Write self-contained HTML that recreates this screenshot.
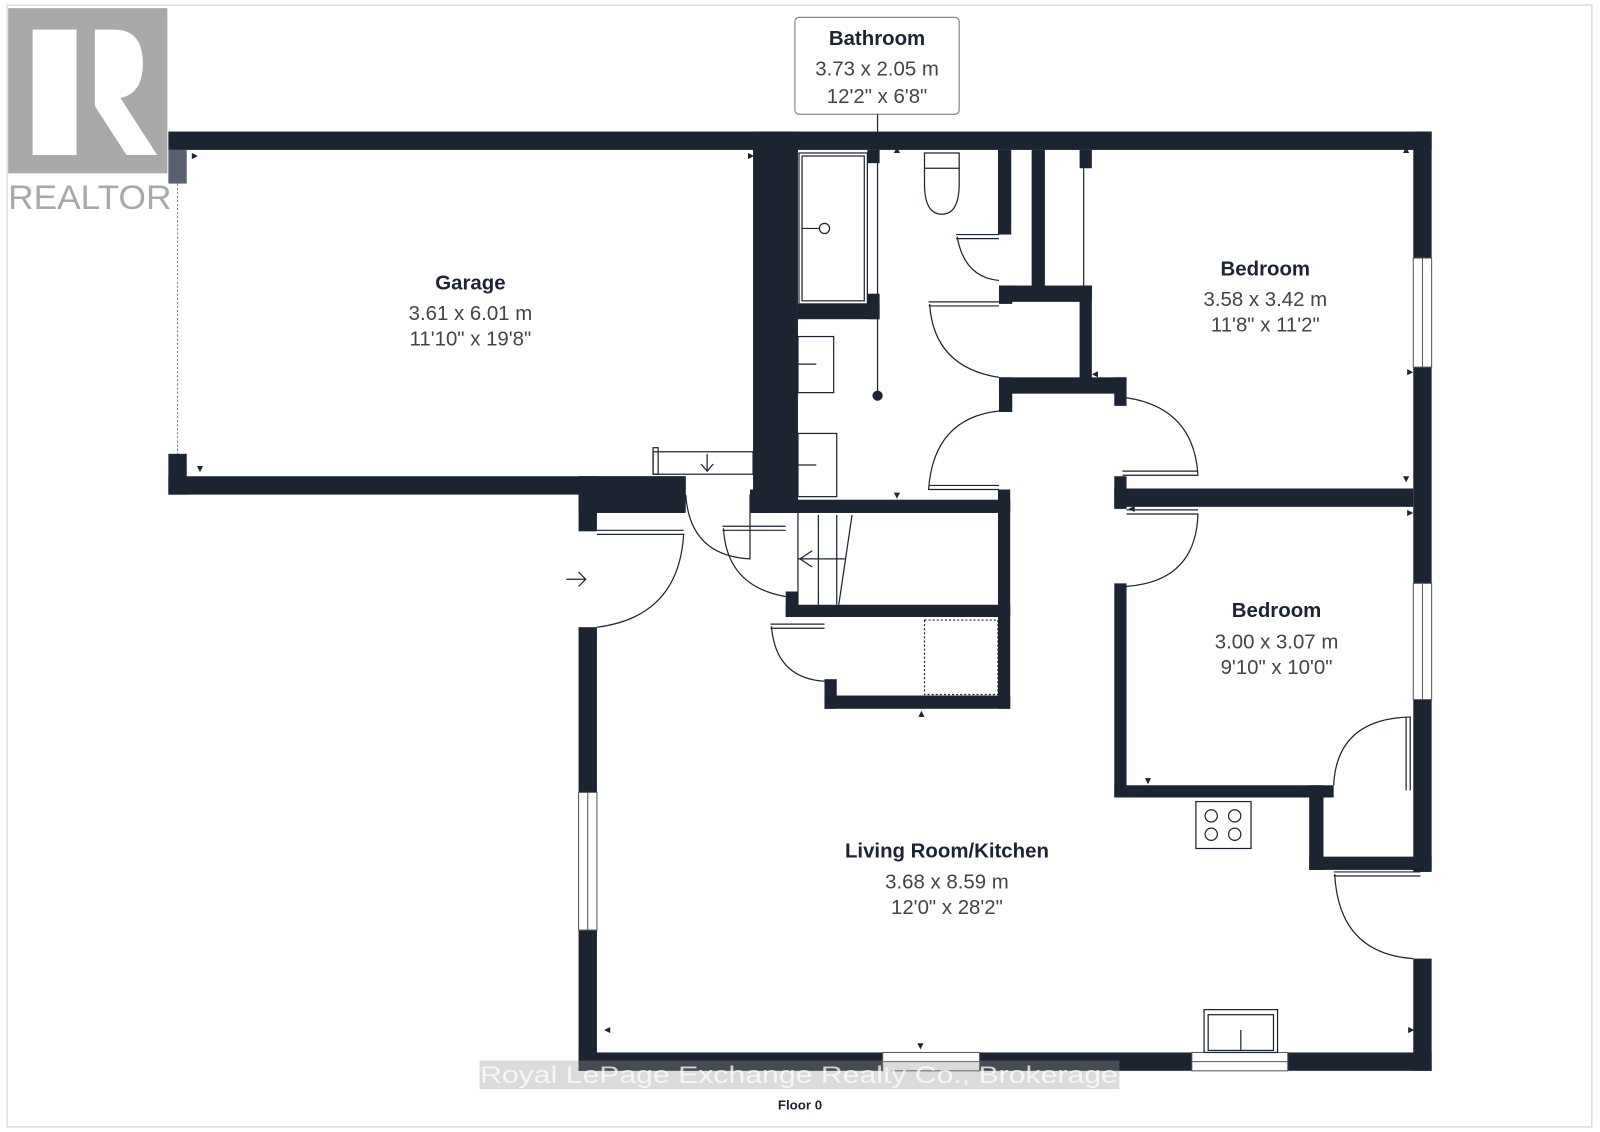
<!DOCTYPE html>
<html><head><meta charset="utf-8"><style>
html,body{margin:0;padding:0;background:#fff;}
svg{display:block;}
text{font-family:"Liberation Sans",sans-serif;}
</style></head><body>
<svg width="1600" height="1132" viewBox="0 0 1568 1110" preserveAspectRatio="none" xmlns="http://www.w3.org/2000/svg">
<rect x="0" y="0" width="1568" height="1110" fill="#fff"/>
<rect x="7" y="5" width="1553" height="1100" fill="none" stroke="#ddd" stroke-width="1.5"/>
<!-- realtor logo -->
<rect x="8" y="8" width="156" height="162" fill="#a9a9a9"/>
<rect x="32" y="29" width="43" height="123" fill="#fff"/>
<path d="M93 29 H112 Q140 29 140 62 Q140 92 118 96 L154 152 H124 L93 104 Z" fill="#fff"/>
<text x="8" y="205" font-size="34" fill="#a9a9a9" textLength="160" lengthAdjust="spacingAndGlyphs">REALTOR</text>
<!-- bathroom label -->
<rect x="779" y="17" width="161" height="95" rx="4" fill="#fff" stroke="#888" stroke-width="1.2"/>
<text x="859.5" y="44" font-size="20" font-weight="bold" fill="#1c2331" text-anchor="middle">Bathroom</text>
<text x="859.5" y="74" font-size="20" fill="#444" text-anchor="middle">3.73 x 2.05 m</text>
<text x="859.5" y="101" font-size="20" fill="#444" text-anchor="middle">12'2" x 6'8"</text>
<line x1="860" y1="112" x2="860" y2="388" stroke="#1c2331" stroke-width="1.2"/>
<circle cx="860" cy="388" r="5" fill="#1c2331"/>
<g fill="#1c2331">
<rect x="165" y="129" width="1238" height="18"/>
<rect x="165" y="147" width="18" height="33" fill="#5a6070"/>
<rect x="165" y="445" width="18" height="40"/>
<rect x="165" y="467" width="507" height="18"/>
<rect x="567" y="467" width="105" height="36"/>
<rect x="567" y="467" width="18" height="54"/>
<rect x="738" y="129" width="44" height="374"/>
<rect x="735" y="480" width="47" height="23"/>
<rect x="1385" y="129" width="18" height="726"/>
<rect x="1385" y="940" width="18" height="110"/>
<rect x="567" y="1032" width="836" height="18"/>
<rect x="567" y="615" width="18" height="435"/>
<rect x="850" y="147" width="12" height="13"/>
<rect x="850" y="288" width="12" height="25"/>
<rect x="782" y="298" width="80" height="15"/>
<rect x="978" y="147" width="13" height="83"/>
<rect x="1011" y="147" width="13" height="136"/>
<rect x="979" y="280" width="91" height="16"/>
<rect x="979" y="280" width="13" height="18"/>
<rect x="1058" y="147" width="12" height="18"/>
<rect x="1058" y="280" width="12" height="95"/>
<rect x="979" y="370" width="125" height="16"/>
<rect x="979" y="370" width="13" height="34"/>
<rect x="1092" y="370" width="12" height="28"/>
<rect x="1092" y="479" width="293" height="18"/>
<rect x="1092" y="467" width="12" height="32"/>
<rect x="1092" y="572" width="12" height="210"/>
<rect x="1092" y="770" width="215" height="12"/>
<rect x="1283" y="770" width="14" height="83"/>
<rect x="1283" y="840" width="120" height="13"/>
<rect x="782" y="490" width="208" height="13"/>
<rect x="978" y="480" width="12" height="215"/>
<rect x="770" y="593" width="220" height="12"/>
<rect x="770" y="580" width="12" height="25"/>
<rect x="808" y="682" width="182" height="13"/>
<rect x="808" y="666" width="12" height="29"/>
</g>
<g fill="#fff" stroke="#555" stroke-width="1">
<rect x="1385" y="253" width="18" height="107"/>
<rect x="1385" y="572" width="18" height="114"/>
<rect x="567" y="777" width="18" height="135"/>
<rect x="865" y="1032" width="95" height="18"/>
<rect x="1168" y="1032" width="94" height="18"/>
</g>
<g stroke="#555" stroke-width="1">
<line x1="1394" y1="253" x2="1394" y2="360"/><line x1="1394" y1="572" x2="1394" y2="686"/>
<line x1="576" y1="777" x2="576" y2="912"/><line x1="865" y1="1041" x2="960" y2="1041"/><line x1="1168" y1="1041" x2="1262" y2="1041"/>
</g>
<line x1="174" y1="180" x2="174" y2="445" stroke="#777" stroke-dasharray="2,2"/>
<g fill="none" stroke="#1c2331" stroke-width="1.2">
<rect x="783" y="150" width="67" height="148"/><rect x="786" y="153" width="61" height="142"/>
<circle cx="808" cy="224" r="5"/><line x1="786" y1="224" x2="803" y2="224"/>
<path d="M906 150 H940 V180 Q940 210 923 210 Q906 210 906 180 Z"/><line x1="906" y1="165" x2="940" y2="165"/>
<rect x="782" y="330" width="35" height="55"/><line x1="782" y1="357" x2="800" y2="357"/>
<rect x="782" y="425" width="38" height="62"/><line x1="782" y1="456" x2="800" y2="456"/>
<line x1="1062" y1="165" x2="1062" y2="280"/>
<rect x="1172" y="786" width="54" height="46"/>
<circle cx="1187" cy="800" r="6"/><circle cx="1210" cy="800" r="6"/><circle cx="1187" cy="818" r="6"/><circle cx="1210" cy="818" r="6"/>
<rect x="1180" y="990" width="72" height="42"/><rect x="1184" y="995" width="64" height="35"/><line x1="1216" y1="1010" x2="1216" y2="1030"/>
<rect x="906" y="608" width="72" height="73" stroke-dasharray="2,2"/>
<rect x="640" y="443" width="98" height="22"/><rect x="640" y="439" width="5" height="26"/>
<path d="M687 455 L693 462 L699 455 M693 445 V462"/>
<line x1="782" y1="503" x2="782" y2="593"/><line x1="802" y1="505" x2="802" y2="593"/><line x1="820" y1="505" x2="820" y2="593"/><line x1="835" y1="505" x2="822" y2="593"/>
<line x1="782" y1="548" x2="828" y2="548"/><path d="M796 540 L784 548 L796 556"/>
<path d="M555 568 H574 M567 561 L574 568 L567 575"/>
<path d="M937 230 H979 M937 234 H979 M938 232 Q945 272 979 275"/>
<path d="M910 296 H979 M910 300 H979 M911 298 Q915 360 979 370"/>
<path d="M979 403 Q915 410 910 480 H979 M910 476 H979"/>
<path d="M1104 390 Q1170 400 1174 466 H1100 M1100 462 H1174"/>
<path d="M1104 500 H1174 M1104 504 H1174 Q1172 570 1104 575"/>
<path d="M585 520 H670 M585 524 H670 Q665 605 585 615"/>
<path d="M672 485 Q676 545 735 548 V485"/>
<path d="M708 516 H770 M708 520 H770 M709 518 Q712 575 770 585"/>
<path d="M755 612 H808 M755 616 H808 M756 614 Q760 665 808 668"/>
<path d="M1307 770 Q1310 705 1382 703 V775 M1378 703 V775"/>
<path d="M1307 855 H1392 M1307 859 H1392 M1308 857 Q1312 935 1385 940"/>
</g>
<g fill="#1c2331">
<path d="M188 150 l6 3 l-6 3 z"/><path d="M733 150 l6 3 l-6 3 z"/><path d="M193 457 l3 6 l3 -6 z"/>
<path d="M876 150 l3 -6 l3 6 z"/><path d="M876 483 l3 6 l3 -6 z"/><path d="M1375 150 l3 -6 l3 6 z"/><path d="M1375 467 l3 6 l3 -6 z"/>
<path d="M1076 364 l-6 3 l6 3 z"/><path d="M1379 362 l6 3 l-6 3 z"/><path d="M1112 496 l-6 3 l6 3 z"/><path d="M1379 500 l6 3 l-6 3 z"/>
<path d="M1122 763 l3 6 l3 -6 z"/><path d="M900 703 l3 -6 l3 6 z"/><path d="M598 1007 l-6 3 l6 3 z"/><path d="M1380 1007 l6 3 l-6 3 z"/><path d="M899 1023 l3 6 l3 -6 z"/>
</g>
<g text-anchor="middle">
<text x="461" y="284" font-size="20" font-weight="bold" fill="#1c2331">Garage</text>
<text x="461" y="314" font-size="20" fill="#444">3.61 x 6.01 m</text>
<text x="461" y="339" font-size="20" fill="#444">11'10" x 19'8"</text>
<text x="1240" y="270" font-size="20" font-weight="bold" fill="#1c2331">Bedroom</text>
<text x="1240" y="300" font-size="20" fill="#444">3.58 x 3.42 m</text>
<text x="1240" y="325" font-size="20" fill="#444">11'8" x 11'2"</text>
<text x="1251" y="605" font-size="20" font-weight="bold" fill="#1c2331">Bedroom</text>
<text x="1251" y="636" font-size="20" fill="#444">3.00 x 3.07 m</text>
<text x="1251" y="661" font-size="20" fill="#444">9'10" x 10'0"</text>
<text x="928" y="841" font-size="20" font-weight="bold" fill="#1c2331">Living Room/Kitchen</text>
<text x="928" y="871" font-size="20" fill="#444">3.68 x 8.59 m</text>
<text x="928" y="896" font-size="20" fill="#444">12'0" x 28'2"</text>
</g>
<rect x="470" y="1040" width="627" height="28" fill="#999" opacity="0.35"/>
<text x="783" y="1062" font-size="24" fill="#fff" fill-opacity="0.75" text-anchor="middle" textLength="625" lengthAdjust="spacingAndGlyphs">Royal LePage Exchange Realty Co., Brokerage</text>
<text x="784" y="1088" font-size="13" font-weight="bold" fill="#1c2331" text-anchor="middle">Floor 0</text>
</svg>
</body></html>
